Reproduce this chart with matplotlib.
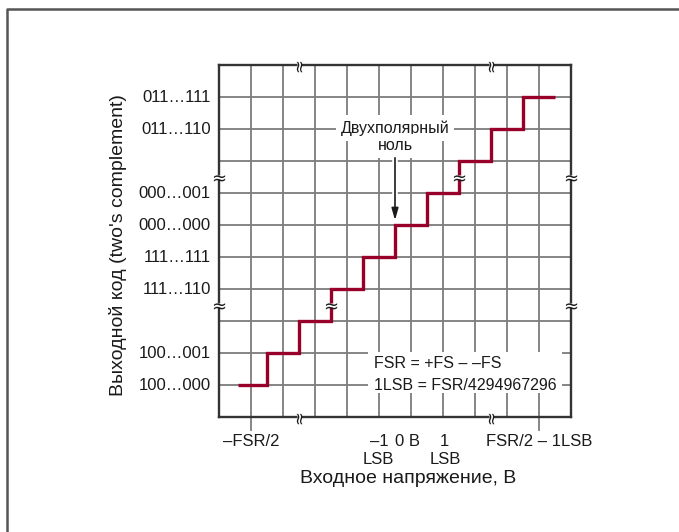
import matplotlib
matplotlib.use("Agg")
import matplotlib.pyplot as plt
from matplotlib.lines import Line2D
from matplotlib.patches import Rectangle

plt.rcParams['font.family'] = ['Liberation Sans', 'DejaVu Sans']

# ---- data ----
step_edges = [0.6, 1.5, 2.5, 3.5, 4.5, 5.5, 6.5, 7.5, 8.5, 9.5, 10.5]
step_levels = [1, 2, 3, 4, 5, 6, 7, 8, 9, 10]
ytick_pos = [1, 2, 4, 5, 6, 7, 9, 10]
ytick_labels = ["100…000", "100…001", "111…110", "111…111",
                "000…000", "000…001", "011…110", "011…111"]
xtick_pos = [1, 10]
xtick_labels = ["–FSR/2", "FSR/2 – 1LSB"]
breaks_vert = [(0, 3.5), (0, 7.5), (11, 3.5), (11, 7.5), (3.5, 3.5), (7.5, 7.5)]
breaks_horiz = [(2.5, 11), (8.5, 11), (2.5, 0), (8.5, 0)]

RED = "#98002a"
GRID = "#7c7c7c"
SPINE = "#333333"
TXT = "#1a1a1a"

fig = plt.figure(figsize=(6.79, 5.32), dpi=100)
ax = fig.add_axes([219/679, 1-417/532, 352/679, 352/532])
ax.set_xlim(0, 11)
ax.set_ylim(0, 11)

ax.set_xticks(range(12))
ax.set_yticks(range(12))
ax.grid(True, color=GRID, lw=1.3)
ax.set_axisbelow(True)
ax.tick_params(length=0, labelleft=False, labelbottom=False)
for s in ax.spines.values():
    s.set_color(SPINE)
    s.set_linewidth(1.7)
    s.set_zorder(4)

# y tick labels
for yp, lab in zip(ytick_pos, ytick_labels):
    ax.text(-0.26, yp, lab, ha='right', va='center', fontsize=12, color=TXT)

# x ticks (long, downward)
for xp, lab in zip(xtick_pos, xtick_labels):
    ax.plot([xp, xp], [0, -0.4], color=GRID, lw=1.3, clip_on=False, zorder=1)
    ax.text(xp, -0.78, lab, ha='center', va='center', fontsize=12, color=TXT)

ax.text(5.0, -0.78, "–1", ha='center', va='center', fontsize=12, color=TXT)
ax.text(4.97, -1.34, "LSB", ha='center', va='center', fontsize=12, color=TXT)
ax.text(5.9, -0.78, "0 В", ha='center', va='center', fontsize=12, color=TXT)
ax.text(7.03, -0.78, "1", ha='center', va='center', fontsize=12, color=TXT)
ax.text(7.06, -1.34, "LSB", ha='center', va='center', fontsize=12, color=TXT)

ax.text(5.9, -1.91, "Входное напряжение, В", ha='center', va='center',
        fontsize=14, color=TXT)
fig.text(118/679, 1-245/532, "Выходной код (two's complement)", rotation=90,
         ha='center', va='center', fontsize=14, color=TXT)

# step transfer function
ax.stairs(step_levels, step_edges, baseline=None, color=RED, lw=2.4, zorder=3)

# annotation: bipolar zero
ax.text(5.5, 9.03, "Двухполярный", ha='center', va='center', fontsize=11.5,
        color=TXT, zorder=6,
        bbox=dict(boxstyle='square,pad=0.3', fc='white', ec='none'))
ax.text(5.5, 8.47, "ноль", ha='center', va='center', fontsize=11.5,
        color=TXT, zorder=6,
        bbox=dict(boxstyle='square,pad=0.3', fc='white', ec='none'))
ax.plot([5.5, 5.5], [6.2, 8.1], color='white', lw=4, zorder=5, solid_capstyle='butt')
ax.annotate("", xy=(5.5, 6.15), xytext=(5.5, 8.1),
            arrowprops=dict(arrowstyle='-|>,head_length=0.7,head_width=0.2',
                            color=TXT, lw=1.2, shrinkA=0, shrinkB=0),
            zorder=6)

# FSR definitions box
ax.add_patch(Rectangle((4.66, 0.75), 10.72-4.66, 2.03-0.75, fc='white',
                       ec='none', zorder=2))
ax.text(4.84, 1.68, "FSR = +FS – –FS", ha='left', va='center', fontsize=11.5,
        color=TXT, zorder=3)
ax.text(4.84, 0.98, "1LSB = FSR/4294967296", ha='left', va='center',
        fontsize=11.5, color=TXT, zorder=3)

# break marks
for bx, by in breaks_vert:
    ax.plot([bx, bx], [by-0.07, by+0.07], color='white', lw=5, zorder=7,
            clip_on=False, solid_capstyle='butt')
    ax.text(bx, by, "≈", ha='center', va='center_baseline', fontsize=13,
            family='DejaVu Sans', color=TXT, zorder=8, clip_on=False)
for bx, by in breaks_horiz:
    ax.plot([bx-0.07, bx+0.07], [by, by], color='white', lw=5, zorder=7,
            clip_on=False, solid_capstyle='butt')
    ax.text(bx, by, "≈", ha='center', va='center', rotation=90,
            rotation_mode='anchor', fontsize=12,
            family='DejaVu Sans', color=TXT, zorder=8, clip_on=False)

# outer frame
fig.add_artist(Line2D([7/679, 7/679, 1.0], [0.0, 1-9/532, 1-9/532],
                      color='#555555', lw=1.8))

fig.savefig("out.png", dpi=100)
